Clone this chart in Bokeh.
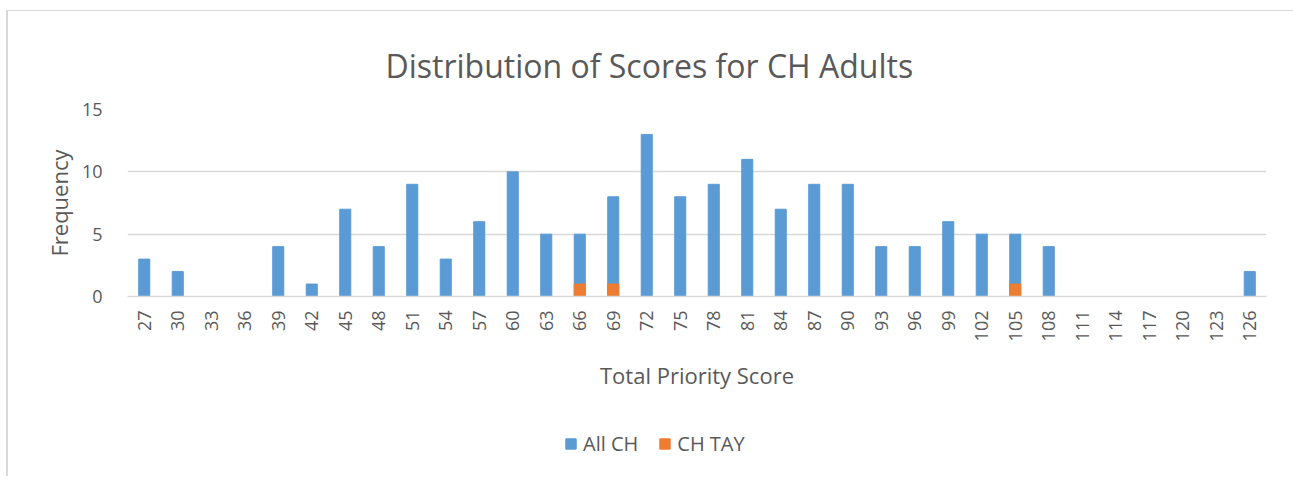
import math
from bokeh.plotting import figure
from bokeh.layouts import column
from bokeh.models import ColumnDataSource, Legend, LegendItem, Title, FixedTicker, Range1d
from bokeh.embed import file_html
from bokeh.resources import INLINE

scores = ["27", "30", "33", "36", "39", "42", "45", "48", "51", "54", "57", "60",
          "63", "66", "69", "72", "75", "78", "81", "84", "87", "90", "93", "96",
          "99", "102", "105", "108", "111", "114", "117", "120", "123", "126"]
all_ch = [3, 2, 0, 0, 4, 1, 7, 4, 9, 3, 6, 10,
          5, 5, 8, 13, 8, 9, 11, 7, 9, 9, 4, 4,
          6, 5, 5, 4, 0, 0, 0, 0, 0, 2]
ch_tay = [0, 0, 0, 0, 0, 0, 0, 0, 0, 0, 0, 0,
          0, 1, 1, 0, 0, 0, 0, 0, 0, 0, 0, 0,
          0, 0, 1, 0, 0, 0, 0, 0, 0, 0]
series_names = ["All CH", "CH TAY"]
series_colors = ["#5b9bd5", "#ed7d31"]

FONT = "Open Sans"
GREY = "#595959"

src = ColumnDataSource(dict(x=scores, a=all_ch, t=ch_tay))

p = figure(x_range=scores, y_range=Range1d(0, 15),
           width=1285, height=385,
           output_backend="svg", toolbar_location=None,
           min_border_left=119, min_border_right=27, min_border_top=98, min_border_bottom=100)
p.outline_line_color = None

p.vbar(x="x", top="a", width=0.33, source=src, color=series_colors[0])
p.vbar(x="x", top="t", width=0.33, source=src, color=series_colors[1])

p.add_layout(Title(text="Distribution of Scores for CH Adults", align="left",
                   text_font=FONT, text_font_size="32px", text_color=GREY,
                   text_font_style="normal", standoff=46, offset=258), "above")

p.xgrid.grid_line_color = None
p.ygrid.grid_line_color = "#d9d9d9"
p.ygrid.grid_line_width = 1.3
p.yaxis.ticker = FixedTicker(ticks=[0, 5, 10, 15])
p.yaxis.axis_line_color = None
p.yaxis.major_tick_line_color = None
p.yaxis.minor_tick_line_color = None
p.yaxis.major_label_text_font = FONT
p.yaxis.major_label_text_font_size = "18px"
p.yaxis.major_label_text_color = GREY
p.yaxis.major_label_standoff = 19
p.yaxis.axis_label = "Frequency"
p.yaxis.axis_label_text_font = FONT
p.yaxis.axis_label_text_font_size = "22px"
p.yaxis.axis_label_text_font_style = "normal"
p.yaxis.axis_label_text_color = GREY
p.yaxis.axis_label_standoff = 5

p.xaxis.axis_line_color = "#d9d9d9"
p.xaxis.axis_line_width = 1.3
p.xaxis.major_tick_line_color = None
p.xaxis.minor_tick_line_color = None
p.xaxis.major_label_orientation = math.pi / 2
p.xaxis.major_label_text_font = FONT
p.xaxis.major_label_text_font_size = "18px"
p.xaxis.major_label_text_color = GREY
p.xaxis.major_label_standoff = 8
p.xaxis.axis_label = "Total Priority Score"
p.xaxis.axis_label_text_font = FONT
p.xaxis.axis_label_text_font_size = "22px"
p.xaxis.axis_label_text_font_style = "normal"
p.xaxis.axis_label_text_color = GREY
p.xaxis.axis_label_standoff = 16

# legend strip below the chart (its bars lie far below its visible y range)
p2 = figure(width=1285, height=80, x_range=p.x_range, y_range=Range1d(100, 101),
            x_axis_type=None, y_axis_type=None, output_backend="svg", toolbar_location=None,
            min_border=0)
p2.outline_line_color = None
lr = [p2.vbar(x="x", top=col, width=0.33, source=src, color=c)
      for col, c in zip(["a", "t"], series_colors)]
legend = Legend(items=[LegendItem(label=n, renderers=[r]) for n, r in zip(series_names, lr)],
                orientation="horizontal", location=(437, 19),
                label_text_font=FONT, label_text_font_size="20px", label_text_color=GREY,
                glyph_width=13, glyph_height=13, spacing=20, label_standoff=6,
                border_line_color=None, background_fill_alpha=0, padding=0, margin=0)
p2.add_layout(legend)

layout = column(p, p2, spacing=0)
layout.styles = {"margin-left": "6px", "margin-top": "10px",
                 "border-left": "2px solid #d9d9d9", "border-top": "1px solid #d9d9d9"}

open("out.html", "w").write(file_html(layout, INLINE))
